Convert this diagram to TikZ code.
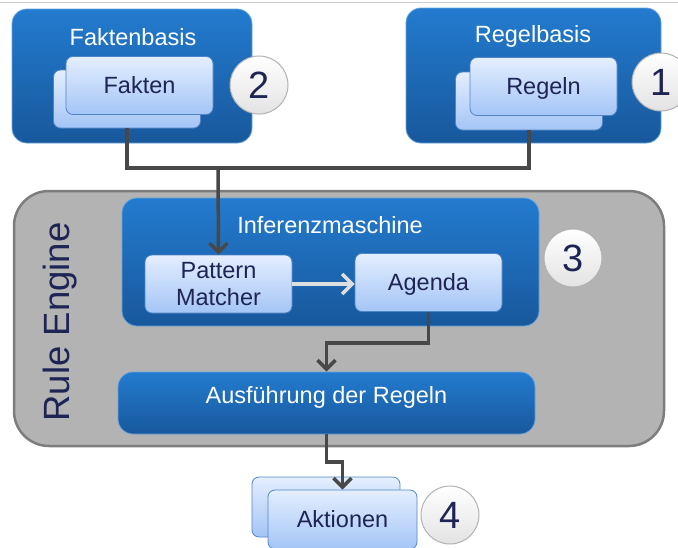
\documentclass[tikz,border=0pt]{standalone}
\usepackage{fontspec}
\setmainfont{Liberation Sans}
\usetikzlibrary{arrows.meta}
\definecolor{blauoben}{RGB}{35,123,207}
\definecolor{blauunten}{RGB}{24,88,156}
\definecolor{kartoben}{RGB}{228,238,255}
\definecolor{kartunten}{RGB}{164,197,246}
\definecolor{kartrand}{RGB}{80,134,200}
\definecolor{tinte}{RGB}{30,36,84}
\definecolor{grau}{RGB}{179,179,179}
\definecolor{graurand}{RGB}{125,125,125}
\definecolor{linie}{RGB}{72,72,72}
\definecolor{hellgrau}{RGB}{222,222,222}
\begin{document}
\begin{tikzpicture}[x=1pt,y=-1pt,
    basis/.style={rounded corners=15pt,top color=blauoben,bottom color=blauunten,
      draw=blauoben!70!white,line width=0.8pt,inner sep=0pt},
    karte/.style={rounded corners=7pt,top color=kartoben,bottom color=kartunten,
      draw=kartrand,line width=0.8pt,text=tinte,font=\fontsize{23.5}{27}\selectfont,
      minimum width=147pt,minimum height=58pt,inner sep=0pt,text height=19pt,text depth=3pt},
    titel/.style={text=white,font=\fontsize{23.5}{27}\selectfont,inner sep=0pt,anchor=base},
    nummer/.style={circle,top color=white,bottom color=gray!22,draw=gray!60,line width=1pt,
      minimum size=58pt,inner sep=0pt,text=tinte,font=\fontsize{38}{40}\selectfont},
    conn/.style={draw=linie,line width=3.5pt},
    pfeil/.style={-{Straight Barb[length=9pt,width=18pt]}}]
  \useasboundingbox (0,0) rectangle (678,547);
  \draw[gray!40,line width=1pt] (0,2) -- (678,2);

  % Rule Engine
  \node[draw=graurand,fill=grau,line width=2.5pt,rounded corners=35pt,
    minimum width=650pt,minimum height=255pt] (engine) at (339,318.5) {};
  \node[rotate=90,anchor=base,text=tinte,font=\fontsize{36.5}{40}\selectfont,inner sep=0pt]
    (enginet) at (69,322) {Rule Engine};

  % Wissensbasen
  \node[basis,minimum width=240pt,minimum height=134pt] (fb) at (132,76) {};
  \node[titel] (fbt) at (133,45) {Faktenbasis};
  \node[karte] (fakten2) at (127,99) {};
  \node[karte] (fakten) at (139.5,85.5) {Fakten};

  \node[basis,minimum width=255pt,minimum height=135pt] (rb) at (533.5,75.5) {};
  \node[titel] (rbt) at (533,42) {Regelbasis};
  \node[karte] (regeln2) at (529,101) {};
  \node[karte] (regeln) at (543.5,86.5) {Regeln};

  % Inferenzmaschine
  \node[basis,minimum width=417pt,minimum height=128pt] (im) at (330.5,262) {};
  \node[titel] (imt) at (330,233) {Inferenzmaschine};
  \node[karte,align=center,text height=46pt,text depth=3pt] (pm) at (218.5,284) {Pattern\\Matcher};
  \node[karte] (agenda) at (428.5,282.5) {Agenda};

  \node[basis,minimum width=417pt,minimum height=62pt] (ausf) at (326.5,403) {};
  \node[titel] (ausft) at (326.5,403) {Ausführung der Regeln};

  % Aktionen
  \node[karte,minimum width=148pt,minimum height=60pt] (aktionen2) at (326,507) {};
  \node[karte,minimum width=149pt,minimum height=59pt] (aktionen) at (342.5,519.5) {Aktionen};

  \foreach \n/\x/\y in {1/661/82, 2/259/85, 3/573/258, 4/450/515}
    \node[nummer] (nr\n) at (\x,\y) {\n};

  % Verbindungen
  \coordinate (treffen) at (218,168);
  \coordinate (knick1) at (326.5,343);
  \coordinate (knick2) at (342.5,462);
  \draw[conn] (fakten2.south) |- (treffen);
  \draw[conn] (regeln2.south) |- (treffen);
  \draw[conn,pfeil] (treffen) -- (pm.north);
  \draw[draw=hellgrau,line width=3.5pt,-{Straight Barb[length=10pt,width=20pt]}]
    (pm.east) -- (pm.east -| agenda.west);
  \draw[conn,pfeil] (agenda.south) |- (knick1) -- (ausf.north);
  \draw[conn,pfeil] (ausf.south) |- (knick2) -- (aktionen.north);
\end{tikzpicture}
\end{document}
